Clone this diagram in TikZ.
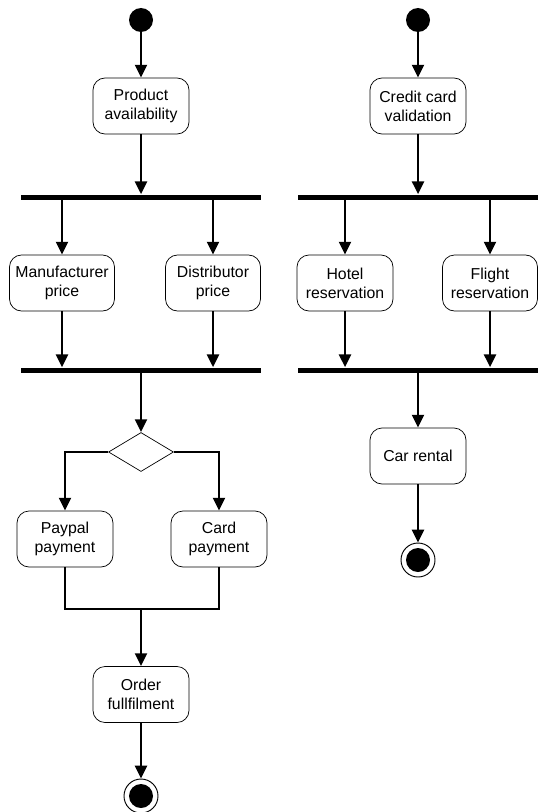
\documentclass[tikz,border=0pt]{standalone}
\usepackage{fontspec}
\setmainfont{Liberation Sans}
\usetikzlibrary{arrows.meta,shapes.geometric}
\tikzset{
  action/.style={draw,rounded corners=0.36cm,line width=0.6pt,align=center,
    minimum width=2.88cm,minimum height=1.68cm,inner sep=2pt,
    font=\fontsize{13.5}{16}\selectfont},
  bar/.style={fill=black,inner sep=0pt,minimum width=7.17cm,minimum height=0.15cm},
  decision/.style={draw,diamond,line width=0.6pt,inner sep=0pt,
    minimum width=1.95cm,minimum height=1.17cm},
  initial/.style={circle,fill=black,inner sep=0pt,minimum size=0.72cm},
  final/.style={circle,draw,line width=0.8pt,inner sep=0pt,minimum size=1.02cm,
    path picture={\fill (path picture bounding box.center) circle (0.36cm);}},
  flow/.style={line width=2.5pt,-{Triangle[length=11pt,width=10pt]}},
  wire/.style={line width=2.5pt}
}
\begin{document}
\begin{tikzpicture}[x=0.03cm,y=-0.03cm]
      \useasboundingbox (0,0) rectangle (558,812);
      % ordering
      \node[initial] (start1) at (141,20) {};
      \node[action] (prod) at (141,106) {Product\\availability};
      \node[bar] (fork1) at (141,197) {};
      \node[action,minimum width=3.15cm] (man) at (62,283) {Manufacturer\\price};
      \node[action,minimum width=2.85cm] (dist) at (213,283) {Distributor\\price};
      \node[bar] (join1) at (141,370) {};
      \node[decision] (dec) at (141,452) {};
      \node[action] (pay) at (65,539) {Paypal\\payment};
      \node[action] (card) at (219,539) {Card\\payment};
      \coordinate (merge) at (141,609);
      \node[action] (order) at (141,694.5) {Order\\fullfilment};
      \node[final] (end1) at (141,796) {};
      % booking
      \node[initial] (start2) at (418,20) {};
      \node[action] (valid) at (418,106) {Credit card\\validation};
      \node[bar] (fork2) at (418,197) {};
      \node[action] (hotel) at (345,283) {Hotel\\reservation};
      \node[action,minimum width=2.85cm] (flight) at (490,283) {Flight\\reservation};
      \node[bar] (join2) at (418,370) {};
      \node[action] (car) at (418,456) {Car rental};
      \node[final] (end2) at (418,560) {};
      \begin{scope}[flow]
        \draw (start1) to (prod);
        \draw (prod) to (fork1.north);
        \draw (fork1.south -| man) to (man);
        \draw (fork1.south -| dist) to (dist);
        \draw (man) to (man |- join1.north);
        \draw (dist) to (dist |- join1.north);
        \draw (join1.south) to (dec);
        \draw (dec.west) -| (pay);
        \draw (dec.east) -| (card);
        \draw (merge) to (order);
        \draw (order) to (end1);
        \draw (start2) to (valid);
        \draw (valid) to (fork2.north);
        \draw (fork2.south -| hotel) to (hotel);
        \draw (fork2.south -| flight) to (flight);
        \draw (hotel) to (hotel |- join2.north);
        \draw (flight) to (flight |- join2.north);
        \draw (join2.south) to (car);
        \draw (car) to (end2);
      \end{scope}
      \draw[wire] (pay.south) |- (merge) -| (card.south);
    \end{tikzpicture}
\end{document}
